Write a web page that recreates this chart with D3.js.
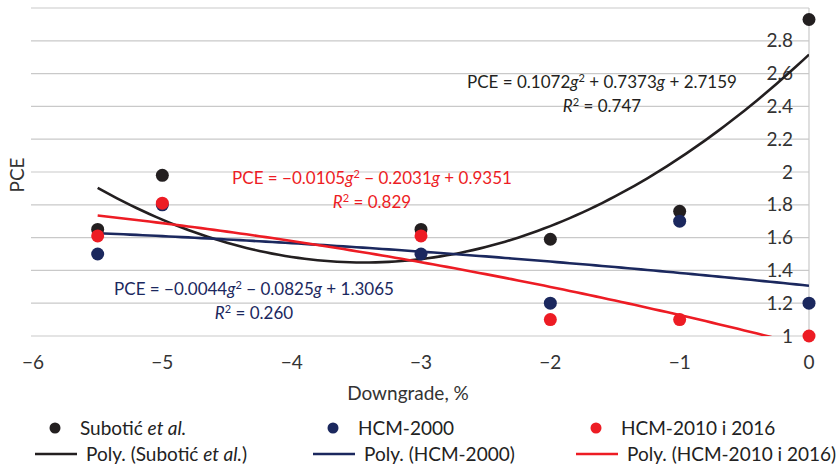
<!DOCTYPE html>
<html>
<head>
<meta charset="utf-8">
<script src="https://cdn.jsdelivr.net/npm/d3@7"></script>
<style>
  body { margin: 0; background: #fff; }
  svg { display: block; font-family: Lato, "Open Sans", sans-serif; }
</style>
</head>
<body>
<svg id="chart" width="840" height="465"></svg>
<script>
// grades (x values) and PCE values per source
let grades = [-5.5, -5, -3, -2, -1, 0]
let subotic = [1.65, 1.98, 1.65, 1.59, 1.76, 2.93]
let hcm2000 = [1.5, 1.8, 1.5, 1.2, 1.7, 1.2]
let hcm2010 = [1.61, 1.81, 1.61, 1.1, 1.1, 1.0]

// polynomial trend coefficients [a, b, c] for a*g^2 + b*g + c
let coefSubotic = [0.1072, 0.7373, 2.7159]
let coefHcm2000 = [-0.0044, -0.0825, 1.3065]
let coefHcm2010 = [-0.0105, -0.2031, 0.9351]

let xTicks = [-6, -5, -4, -3, -2, -1, 0]
let yTicks = [1, 1.2, 1.4, 1.6, 1.8, 2, 2.2, 2.4, 2.6, 2.8]

let svg = d3.select("#chart")
let pLeft = 33, pRight = 809, pTop = 8, pBottom = 336

let x = d3.scaleLinear().domain([-6, 0]).range([pLeft, pRight])
let y = d3.scaleLinear().domain([1, 3]).range([pBottom, pTop])

let series = [
    { name: "Subotić", vals: subotic, coef: coefSubotic, color: "#231f20" },
    { name: "HCM-2000", vals: hcm2000, coef: coefHcm2000, color: "#1b285e" },
    { name: "HCM-2010 i 2016", vals: hcm2010, coef: coefHcm2010, color: "#ed1c24" }
]

// gridlines
svg.append("g")
    .selectAll("line")
    .data(d3.range(1.2, 3.01, 0.2))
    .enter().append("line")
    .attr("x1", pLeft - 2).attr("x2", pRight)
    .attr("y1", d => y(d)).attr("y2", d => y(d))
    .attr("stroke", "#c9c9c9")
    .attr("stroke-width", 1.2)

// axes lines
svg.append("line")
    .attr("x1", pLeft - 2).attr("x2", pRight)
    .attr("y1", y(1)).attr("y2", y(1))
    .attr("stroke", "#c9c9c9").attr("stroke-width", 1.2)
svg.append("line")
    .attr("x1", x(0)).attr("x2", x(0))
    .attr("y1", y(3)).attr("y2", y(1))
    .attr("stroke", "#c9c9c9").attr("stroke-width", 1.2)

// y tick labels (left of the axis at x = 0)
svg.append("g")
    .selectAll("text")
    .data(yTicks)
    .enter().append("text")
    .attr("x", x(0) - 16)
    .attr("y", d => y(d))
    .attr("dy", "0.35em")
    .attr("text-anchor", "end")
    .attr("font-size", 19)
    .attr("fill", "#333")
    .text(d => d3.format("")(+d.toFixed(1)))

// x tick labels
svg.append("g")
    .selectAll("text")
    .data(xTicks)
    .enter().append("text")
    .attr("x", d => x(d))
    .attr("y", 362)
    .attr("dy", "0.35em")
    .attr("text-anchor", "middle")
    .attr("font-size", 19)
    .attr("fill", "#333")
    .text(d => d < 0 ? "\u2212" + Math.abs(d) : d)

// axis titles
svg.append("text")
    .attr("x", 408).attr("y", 393)
    .attr("dy", "0.35em")
    .attr("text-anchor", "middle")
    .attr("font-size", 19)
    .attr("fill", "#333")
    .text("Downgrade, %")
svg.append("text")
    .attr("transform", "translate(17,175) rotate(-90)")
    .attr("dy", "0.35em")
    .attr("text-anchor", "middle")
    .attr("font-size", 19)
    .attr("fill", "#333")
    .text("PCE")

// trend lines, clipped to the plot area
svg.append("clipPath").attr("id", "plotclip")
    .append("rect")
    .attr("x", pLeft).attr("y", pTop)
    .attr("width", pRight - pLeft).attr("height", pBottom - pTop)

let line = d3.line()
    .x(d => x(d[0]))
    .y(d => y(d[1]))

let trend = svg.append("g").attr("clip-path", "url(#plotclip)")
series.forEach(s => {
    let pts = d3.range(0, 111).map(i => {
        let g = -5.5 + i * 0.05
        return [g, s.coef[0] * g * g + s.coef[1] * g + s.coef[2]]
    })
    trend.append("path")
        .datum(pts)
        .attr("fill", "none")
        .attr("stroke", s.color)
        .attr("stroke-width", 2.6)
        .attr("d", line)
})

// points
series.forEach(s => {
    svg.append("g")
        .selectAll("circle")
        .data(s.vals)
        .enter().append("circle")
        .attr("cx", (d, i) => x(grades[i]))
        .attr("cy", d => y(d))
        .attr("r", 6.5)
        .attr("fill", s.color)
})

// equations
function equation(cx, cy, color, parts, r2) {
    let t = svg.append("text")
        .attr("x", cx).attr("y", cy)
        .attr("dy", "0.35em")
        .attr("text-anchor", "middle")
        .attr("font-size", 17)
        .attr("fill", color)
    parts.forEach(p => {
        let sp = t.append("tspan").text(p.t)
        if (p.i) sp.attr("font-style", "italic")
        if (p.sup) sp.attr("font-size", 11).attr("baseline-shift", "super")
    })
    let t2 = svg.append("text")
        .attr("x", cx).attr("y", cy + 24)
        .attr("dy", "0.35em")
        .attr("text-anchor", "middle")
        .attr("font-size", 17)
        .attr("fill", color)
    t2.append("tspan").attr("font-style", "italic").text("R")
    t2.append("tspan").attr("font-size", 11).attr("baseline-shift", "super").text("2")
    t2.append("tspan").text(" = " + r2)
}

function eqParts(c) {
    let sgn = v => v < 0 ? "\u2212" : "+"
    let first = c[0] < 0 ? "\u2212" : ""
    return [
        { t: "PCE = " + first + Math.abs(c[0]).toFixed(4) },
        { t: "g", i: true },
        { t: "2", sup: true },
        { t: " " + sgn(c[1]) + " " + Math.abs(c[1]).toFixed(4) },
        { t: "g", i: true },
        { t: " " + sgn(c[2]) + " " + Math.abs(c[2]).toFixed(4) }
    ]
}

equation(602, 82, "#231f20", eqParts(coefSubotic), "0.747")
equation(372, 178, "#ed1c24", eqParts(coefHcm2010), "0.829")
equation(254, 289, "#1b285e", eqParts(coefHcm2000), "0.260")

// legend
let legendItems = [
    { x: 55, label: ["Subotić ", "et al.", ""], color: "#231f20" },
    { x: 333, label: ["HCM-2000", "", ""], color: "#1b285e" },
    { x: 596, label: ["HCM-2010 i 2016", "", ""], color: "#ed1c24" }
]
legendItems.forEach(l => {
    svg.append("circle")
        .attr("cx", l.x).attr("cy", 428)
        .attr("r", 5.5)
        .attr("fill", l.color)
    let t = svg.append("text")
        .attr("x", l.x + 25).attr("y", 428)
        .attr("dy", "0.35em")
        .attr("font-size", 19)
        .attr("fill", "#222")
    t.append("tspan").text(l.label[0])
    if (l.label[1]) t.append("tspan").attr("font-style", "italic").text(l.label[1])

    svg.append("line")
        .attr("x1", l.x - 20).attr("x2", l.x + 22)
        .attr("y1", 454).attr("y2", 454)
        .attr("stroke", l.color)
        .attr("stroke-width", 2.6)
    let t2 = svg.append("text")
        .attr("x", l.x + 31).attr("y", 454)
        .attr("dy", "0.35em")
        .attr("font-size", 19)
        .attr("fill", "#222")
    t2.append("tspan").text("Poly. (" + l.label[0])
    if (l.label[1]) t2.append("tspan").attr("font-style", "italic").text(l.label[1])
    t2.append("tspan").text(")")
})
</script>
</body>
</html>
